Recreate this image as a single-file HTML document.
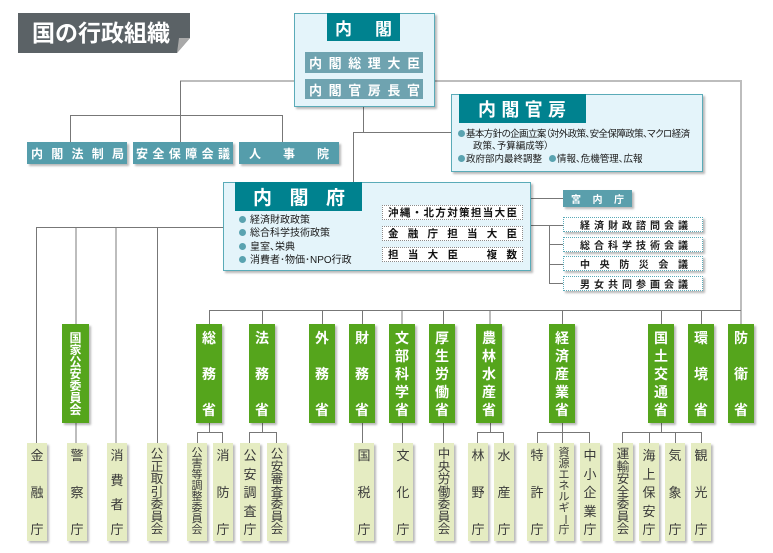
<!DOCTYPE html>
<html><head><meta charset="utf-8">
<style>
*{margin:0;padding:0}
html,body{width:773px;height:553px;background:#fff;overflow:hidden}
#c{position:relative;width:773px;height:553px;font-family:"Liberation Sans","Noto Sans CJK JP",sans-serif}
.b{position:absolute;box-sizing:border-box}
.jh{display:flex;justify-content:space-between;align-items:center}
.jv{display:flex;flex-direction:column;justify-content:space-between;align-items:center}
.sh{box-shadow:2px 2px 2px rgba(0,0,0,.28)}
.teal{background:#559dab;color:#fff;font-weight:bold;font-size:12px;top:142px;height:22px}
.hdr{background:#00828f;color:#fff;font-weight:bold}
.bar{background:#6fa3b0;color:#fff;font-weight:bold;font-size:13px;left:305px;width:118px}
.lb{background:#e4f4fa;border:1px solid #5aabb8}
.wb{background:#fff;border:1px dotted #8a8a8a;font-weight:bold;font-size:10.5px;color:#111;left:382px;width:141px;height:15px;padding:0 5px}
.cc{background:#fff;border:1px dotted #5aaab8;font-weight:bold;font-size:10px;color:#222;left:563px;width:140px;height:15px;padding:0 14px 0 16px}
.min{top:324px;width:26px;height:99px;background:#55a51c;color:#fff;font-weight:bold;font-size:14px;padding:7px 0 6px}
.min span{display:block;height:14px;line-height:14px}
.min.m7{font-size:12px;padding:8px 0 7px}
.min.m7 span{height:12px;line-height:12px}
.ag{top:443px;width:20px;height:98px;background:#e5ecc2;color:#3a3a3a;font-size:13px;padding:6px 0 5px}
.ag span{display:block;height:13px;line-height:13px}
.ag.a7{font-size:12.5px;padding:5px 0 5px}
.ag.a7 span{height:12.5px;line-height:12.5px}
.ag.a8{font-size:11px;padding:5px 0 5px}
.ag.a8 span{height:11px;line-height:11px}
.txt{position:absolute;font-size:9.5px;color:#1a1a1a;white-space:nowrap;font-feature-settings:"palt";line-height:12px}
.dot{display:inline-block;width:7px;height:7px;border-radius:50%;background:#5aa3b0;vertical-align:middle;margin-right:1px;position:relative;top:-1px}
</style></head><body><div id="c">

<svg width="773" height="553" style="position:absolute;left:0;top:0">
<g stroke="#bdbdbd" stroke-width="2" fill="none">
<path d="M180 81H294 M435 81H741V324"/>
<path d="M76 227V324 M76 423V443 M116 227V443 M402 310V324 M490 310V324"/>
</g>
<g stroke="#777" stroke-width="1" fill="none" shape-rendering="crispEdges">
<path d="M180.5 81V142 M70.5 115.5H282.5 M70.5 115V142 M282.5 115V142"/>
<path d="M363.5 107V132 M353.5 132.5H451 M353.5 132V182"/>
<path d="M36.5 227.5H223 M36.5 227V443 M157.5 227V443"/>
<path d="M531 198.5H563 M531 225.5H563 M549.5 225V283.5 M549 244.5H563 M549 264.5H563 M549 283.5H563"/>
<path d="M209 310.5H741"/>
<path d="M209.5 310V324 M262.5 310V324 M322.5 310V324 M362.5 310V324 M443.5 310V324 M562.5 310V324 M661.5 310V324 M701.5 310V324"/>
<path d="M209.5 423V432.5 M197.5 432.5H222.5 M197.5 432V443 M222.5 432V443"/>
<path d="M262.5 423V432.5 M249.5 432.5H276.5 M249.5 432V443 M276.5 432V443"/>
<path d="M362.5 423V443 M402.5 423V443 M443.5 423V443"/>
<path d="M490.5 423V432.5 M477.5 432.5H503.5 M477.5 432V443 M503.5 432V443"/>
<path d="M562.5 423V443 M537.5 432.5H589.5 M537.5 432V443 M589.5 432V443"/>
<path d="M661.5 423V432.5 M622.5 432.5H701.5 M622.5 432V443 M649.5 432V443 M675.5 432V443 M701.5 432V443"/>
</g>
<polygon points="18,13 190,13 190,38 177,53 18,53" fill="#5b6266"/>
<polygon points="179,38 190,38 177,53" fill="#a9a9a9"/>
</svg>

<!-- Title -->
<div class="b" style="left:32px;top:20px;height:26px;line-height:26px;font-size:23px;font-weight:bold;color:#fff;letter-spacing:0">国の行政組織</div>

<!-- Cabinet -->
<div class="b lb sh" style="left:294px;top:13px;width:141px;height:94px"></div>
<div class="b hdr jh" style="left:327px;top:13px;width:73px;height:28px;font-size:17px;padding:0 8px"><span>内</span><span>閣</span></div>
<div class="b bar jh" style="top:52px;height:21px;padding:0 3px 0 4px"><span>内</span><span>閣</span><span>総</span><span>理</span><span>大</span><span>臣</span></div>
<div class="b bar jh" style="top:79px;height:20px;padding:0 3px 0 4px"><span>内</span><span>閣</span><span>官</span><span>房</span><span>長</span><span>官</span></div>

<!-- top row -->
<div class="b teal jh sh" style="left:27px;width:100px;padding:0 3px 0 4px"><span>内</span><span>閣</span><span>法</span><span>制</span><span>局</span></div>
<div class="b teal jh sh" style="left:133px;width:100px;padding:0 3px"><span>安</span><span>全</span><span>保</span><span>障</span><span>会</span><span>議</span></div>
<div class="b teal jh sh" style="left:239px;width:100px;padding:0 10px"><span>人</span><span>事</span><span>院</span></div>

<!-- Cabinet Secretariat -->
<div class="b lb sh" style="left:451px;top:94px;width:252px;height:78px"></div>
<div class="b hdr jh" style="left:459px;top:94px;width:127px;height:29px;font-size:18px;padding:0 20px 0 19px"><span>内</span><span>閣</span><span>官</span><span>房</span></div>
<div class="txt" style="left:458px;top:129px;letter-spacing:-0.6px"><span class="dot"></span>基本方針の企画立案（対外政策、安全保障政策、マクロ経済</div>
<div class="txt" style="left:473px;top:141px">政策、予算編成等）</div>
<div class="txt" style="left:458px;top:154px"><span class="dot"></span>政府部内最終調整</div>
<div class="txt" style="left:549px;top:154px"><span class="dot"></span>情報、危機管理、広報</div>

<!-- Cabinet Office -->
<div class="b lb sh" style="left:223px;top:182px;width:308px;height:89px"></div>
<div class="b hdr jh" style="left:235px;top:182px;width:127px;height:29px;font-size:19px;padding:0 17px 0 18px"><span>内</span><span>閣</span><span>府</span></div>
<div class="txt" style="left:239px;top:214px;font-size:10px;line-height:13.4px">
<div><span class="dot" style="margin-right:4px"></span>経済財政政策</div>
<div><span class="dot" style="margin-right:4px"></span>総合科学技術政策</div>
<div><span class="dot" style="margin-right:4px"></span>皇室、栄典</div>
<div><span class="dot" style="margin-right:4px"></span>消費者･物価･NPO行政</div>
</div>
<div class="b wb jh" style="top:205px"><span>沖</span><span>縄</span><span>・</span><span>北</span><span>方</span><span>対</span><span>策</span><span>担</span><span>当</span><span>大</span><span>臣</span></div>
<div class="b wb jh" style="top:226px"><span>金</span><span>融</span><span>庁</span><span>担</span><span>当</span><span>大</span><span>臣</span></div>
<div class="b wb jh" style="top:247px"><span>担</span><span>当</span><span>大</span><span>臣</span><span style="width:10px"></span><span>複</span><span>数</span></div>

<!-- Imperial household & councils -->
<div class="b jh sh" style="left:563px;top:190px;width:69px;height:17px;background:#5a9fac;color:#fff;font-weight:bold;font-size:10px;padding:0 8px"><span>宮</span><span>内</span><span>庁</span></div>
<div class="b cc jh sh" style="top:217px"><span>経</span><span>済</span><span>財</span><span>政</span><span>諮</span><span>問</span><span>会</span><span>議</span></div>
<div class="b cc jh sh" style="top:237px"><span>総</span><span>合</span><span>科</span><span>学</span><span>技</span><span>術</span><span>会</span><span>議</span></div>
<div class="b cc jh sh" style="top:256px"><span>中</span><span>央</span><span>防</span><span>災</span><span>会</span><span>議</span></div>
<div class="b cc jh sh" style="top:276px"><span>男</span><span>女</span><span>共</span><span>同</span><span>参</span><span>画</span><span>会</span><span>議</span></div>

<!-- Ministries -->
<div class="b min m7 jv sh" style="left:62px;width:27px"><span>国</span><span>家</span><span>公</span><span>安</span><span>委</span><span>員</span><span>会</span></div>
<div class="b min jv sh" style="left:196px"><span>総</span><span>務</span><span>省</span></div>
<div class="b min jv sh" style="left:249px"><span>法</span><span>務</span><span>省</span></div>
<div class="b min jv sh" style="left:309px"><span>外</span><span>務</span><span>省</span></div>
<div class="b min jv sh" style="left:349px"><span>財</span><span>務</span><span>省</span></div>
<div class="b min jv sh" style="left:389px"><span>文</span><span>部</span><span>科</span><span>学</span><span>省</span></div>
<div class="b min jv sh" style="left:429px"><span>厚</span><span>生</span><span>労</span><span>働</span><span>省</span></div>
<div class="b min jv sh" style="left:476px"><span>農</span><span>林</span><span>水</span><span>産</span><span>省</span></div>
<div class="b min jv sh" style="left:549px"><span>経</span><span>済</span><span>産</span><span>業</span><span>省</span></div>
<div class="b min jv sh" style="left:648px"><span>国</span><span>土</span><span>交</span><span>通</span><span>省</span></div>
<div class="b min jv sh" style="left:688px"><span>環</span><span>境</span><span>省</span></div>
<div class="b min jv sh" style="left:728px"><span>防</span><span>衛</span><span>省</span></div>

<!-- Agencies -->
<div class="b ag jv sh" style="left:27px"><span>金</span><span>融</span><span>庁</span></div>
<div class="b ag jv sh" style="left:67px"><span>警</span><span>察</span><span>庁</span></div>
<div class="b ag jv sh" style="left:107px"><span>消</span><span>費</span><span>者</span><span>庁</span></div>
<div class="b ag a7 jv sh" style="left:147px"><span>公</span><span>正</span><span>取</span><span>引</span><span>委</span><span>員</span><span>会</span></div>
<div class="b ag a8 jv sh" style="left:187px"><span>公</span><span>害</span><span>等</span><span>調</span><span>整</span><span>委</span><span>員</span><span>会</span></div>
<div class="b ag jv sh" style="left:213px"><span>消</span><span>防</span><span>庁</span></div>
<div class="b ag jv sh" style="left:240px"><span>公</span><span>安</span><span>調</span><span>査</span><span>庁</span></div>
<div class="b ag a7 jv sh" style="left:267px"><span>公</span><span>安</span><span>審</span><span>査</span><span>委</span><span>員</span><span>会</span></div>
<div class="b ag jv sh" style="left:354px"><span>国</span><span>税</span><span>庁</span></div>
<div class="b ag jv sh" style="left:393px"><span>文</span><span>化</span><span>庁</span></div>
<div class="b ag a7 jv sh" style="left:434px"><span>中</span><span>央</span><span>労</span><span>働</span><span>委</span><span>員</span><span>会</span></div>
<div class="b ag jv sh" style="left:468px"><span>林</span><span>野</span><span>庁</span></div>
<div class="b ag jv sh" style="left:494px"><span>水</span><span>産</span><span>庁</span></div>
<div class="b ag jv sh" style="left:527px"><span>特</span><span>許</span><span>庁</span></div>
<div class="b ag a8 jv sh" style="left:554px"><span>資</span><span>源</span><span>エ</span><span>ネ</span><span>ル</span><span>ギ</span><span style="transform:rotate(90deg)">ー</span><span>庁</span></div>
<div class="b ag jv sh" style="left:580px"><span>中</span><span>小</span><span>企</span><span>業</span><span>庁</span></div>
<div class="b ag a7 jv sh" style="left:613px"><span>運</span><span>輸</span><span>安</span><span>全</span><span>委</span><span>員</span><span>会</span></div>
<div class="b ag jv sh" style="left:639px"><span>海</span><span>上</span><span>保</span><span>安</span><span>庁</span></div>
<div class="b ag jv sh" style="left:665px"><span>気</span><span>象</span><span>庁</span></div>
<div class="b ag jv sh" style="left:691px"><span>観</span><span>光</span><span>庁</span></div>

</div></body></html>
